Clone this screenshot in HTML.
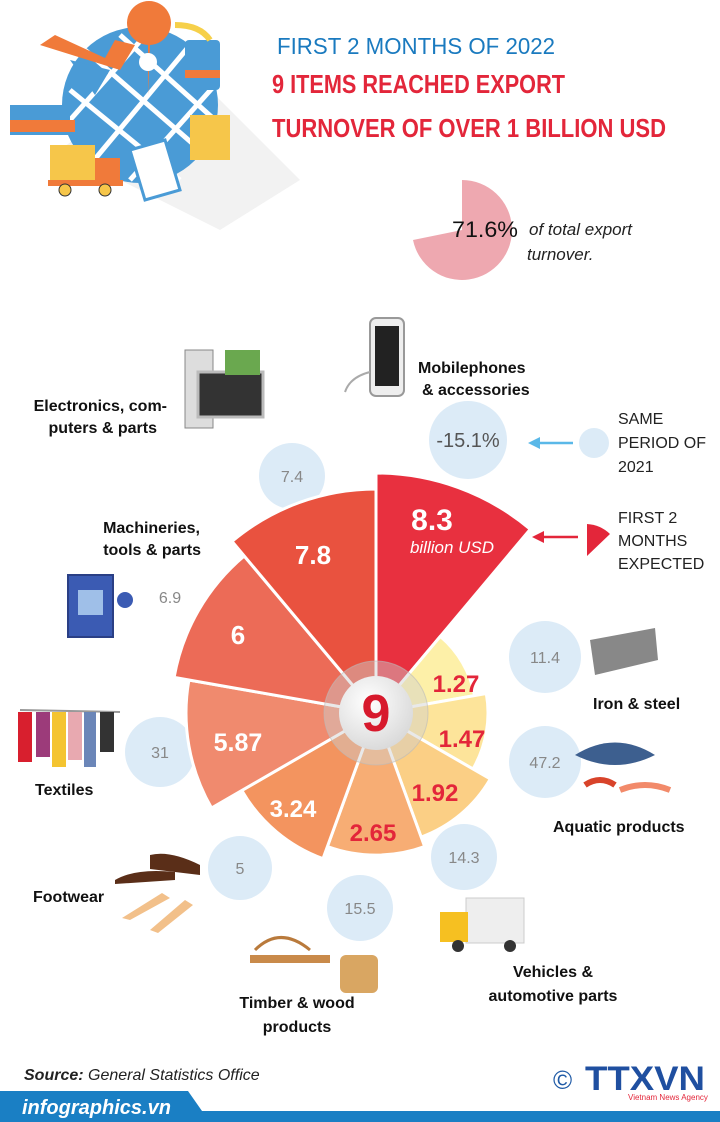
<!DOCTYPE html>
<html><head><meta charset="utf-8"><style>
html,body{margin:0;padding:0;background:#fff}
svg{display:block}
text{font-family:"Liberation Sans",sans-serif}
</style></head><body>
<svg width="720" height="1122" viewBox="0 0 720 1122" xmlns="http://www.w3.org/2000/svg">
<defs>
<radialGradient id="wg" cx="0.4" cy="0.35" r="0.7"><stop offset="0" stop-color="#fff"/><stop offset="1" stop-color="#d8d8d8"/></radialGradient>
</defs>
<path d="M60,150 L220,230 L300,180 L180,60 Z" fill="#f2f2f2"/>
<circle cx="140" cy="105" r="78" fill="#4a9bd6"/>
<g stroke="#fff" stroke-width="5" fill="none">
<path d="M85,50 L200,150"/><path d="M70,90 L180,180"/><path d="M120,35 L215,120"/>
<path d="M190,45 L90,165"/><path d="M215,85 L130,180"/><path d="M150,30 L70,120"/>
</g>
<path d="M40,45 L120,70 L135,45 L115,40 L105,58 L55,35 Z" fill="#f07a3a"/>
<path d="M70,60 L95,95 L110,70 Z" fill="#4a9bd6"/>
<path d="M148,45 a22,22 0 1 1 2,0 L148,95 Z" fill="#f07a3a"/>
<circle cx="148" cy="62" r="9" fill="#fff"/>
<rect x="185" y="40" width="35" height="50" rx="4" fill="#4a9bd6"/><rect x="185" y="70" width="35" height="8" fill="#f07a3a"/>
<rect x="10" y="105" width="60" height="30" fill="#4a9bd6"/><rect x="10" y="120" width="65" height="12" fill="#f07a3a"/>
<rect x="190" y="115" width="40" height="45" fill="#f6c64a"/>
<rect x="50" y="145" width="45" height="35" fill="#f6c64a"/><rect x="95" y="158" width="25" height="22" fill="#f07a3a"/>
<rect x="48" y="180" width="75" height="6" fill="#f07a3a"/>
<circle cx="65" cy="190" r="6" fill="#f6c64a" stroke="#333"/><circle cx="105" cy="190" r="6" fill="#f6c64a" stroke="#333"/>
<path d="M130,150 L165,140 L180,190 L145,200 Z" fill="#fff" stroke="#4a9bd6" stroke-width="3"/>
<path d="M175,25 q25,0 35,15" stroke="#f6d04a" stroke-width="6" fill="none"/>
<text x="277" y="54" font-size="23" fill="#1a7abf" textLength="278" lengthAdjust="spacingAndGlyphs">FIRST 2 MONTHS OF 2022</text>
<text x="272" y="93" font-size="26" font-weight="bold" fill="#e3263a" textLength="293" lengthAdjust="spacingAndGlyphs">9 ITEMS REACHED EXPORT</text>
<text x="272" y="137" font-size="26" font-weight="bold" fill="#e3263a" textLength="394" lengthAdjust="spacingAndGlyphs">TURNOVER OF OVER 1 BILLION USD</text>
<path d="M462,230 L462,180 A50,50 0 1 1 413,240 Z" fill="#eea8b0"/>
<text x="452" y="237" font-size="22" fill="#111" textLength="66" lengthAdjust="spacingAndGlyphs">71.6%</text>
<text x="529" y="235" font-size="17" font-style="italic" fill="#222">of total export</text>
<text x="527" y="260" font-size="17" font-style="italic" fill="#222">turnover.</text>
<g fill="#dcebf7">
<circle cx="468" cy="440" r="39"/><circle cx="292" cy="476" r="33"/><circle cx="160" cy="752" r="35"/>
<circle cx="240" cy="868" r="32"/><circle cx="360" cy="908" r="33"/><circle cx="464" cy="857" r="33"/>
<circle cx="545" cy="762" r="36"/><circle cx="545" cy="657" r="36"/><circle cx="594" cy="443" r="15"/>
</g>
<g font-size="16" fill="#888" text-anchor="middle">
<text x="468" y="447" font-size="20" fill="#555">-15.1%</text>
<text x="292" y="482">7.4</text><text x="170" y="603">6.9</text><text x="160" y="758">31</text>
<text x="240" y="874">5</text><text x="360" y="914">15.5</text><text x="464" y="863">14.3</text>
<text x="545" y="768">47.2</text><text x="545" y="663">11.4</text>
</g>
<path d="M573,443 L535,443" stroke="#5ab8e8" stroke-width="2.5"/><path d="M528,443 L540,437 L540,449 Z" fill="#5ab8e8"/>
<path d="M578,537 L540,537" stroke="#e3263a" stroke-width="2.5"/><path d="M532,537 L544,531 L544,543 Z" fill="#e3263a"/>
<path d="M587,556 L587,524 A36,36 0 0 1 610,534 Z" fill="#e3263a"/>
<g font-size="16" fill="#222">
<text x="618" y="424">SAME</text><text x="618" y="448">PERIOD OF</text><text x="618" y="472">2021</text>
<text x="618" y="523">FIRST 2</text><text x="618" y="546">MONTHS</text><text x="618" y="569">EXPECTED</text>
</g>
<g stroke="#fff" stroke-width="3" stroke-linejoin="round">
<path d="M376,713 L376,473 A240,240 0 0 1 530.3,529.2 Z" fill="#e8303f"/>
<path d="M376,713 L440.3,636.4 A100,100 0 0 1 474.5,695.6 Z" fill="#fdf0a8"/>
<path d="M376,713 L486.3,693.5 A112,112 0 0 1 473,769 Z" fill="#fde49a"/>
<path d="M376,713 L490.3,779 A132,132 0 0 1 421.1,837.1 Z" fill="#fbcf85"/>
<path d="M376,713 L424.6,846.5 A142,142 0 0 1 327.4,846.5 Z" fill="#f7ad74"/>
<path d="M376,713 L323,858.7 A155,155 0 0 1 241.8,790.5 Z" fill="#f3945f"/>
<path d="M376,713 L211.5,808 A190,190 0 0 1 188.9,680 Z" fill="#f08a6e"/>
<path d="M376,713 L174.1,677.4 A205,205 0 0 1 244.2,556 Z" fill="#ec6b57"/>
<path d="M376,713 L232,541.4 A224,224 0 0 1 376,489 Z" fill="#e9523f"/>
</g>
<circle cx="376" cy="713" r="52" fill="#cfcfcf" fill-opacity="0.45" stroke="#bbb" stroke-opacity="0.6"/>
<circle cx="376" cy="713" r="37" fill="url(#wg)"/>
<text x="376" y="731" font-size="52" font-weight="bold" fill="#d7192c" text-anchor="middle">9</text>
<g font-weight="bold" text-anchor="middle">
<text x="432" y="530" font-size="30" fill="#fff">8.3</text>
<text x="452" y="553" font-size="17" font-weight="normal" font-style="italic" fill="#fff">billion USD</text>
<text x="313" y="564" font-size="26" fill="#fff">7.8</text>
<text x="238" y="644" font-size="26" fill="#fff">6</text>
<text x="238" y="751" font-size="25" fill="#fff">5.87</text>
<text x="293" y="817" font-size="24" fill="#fff">3.24</text>
<text x="373" y="841" font-size="24" fill="#e3263a">2.65</text>
<text x="435" y="801" font-size="24" fill="#e3263a">1.92</text>
<text x="462" y="747" font-size="24" fill="#e3263a">1.47</text>
<text x="456" y="692" font-size="24" fill="#e3263a">1.27</text>
</g>
<g font-size="16" font-weight="bold" fill="#111">
<text x="418" y="373">Mobilephones</text><text x="422" y="395">&amp; accessories</text>
<text x="167" y="411" text-anchor="end">Electronics, com-</text><text x="157" y="433" text-anchor="end">puters &amp; parts</text>
<text x="200" y="533" text-anchor="end">Machineries,</text><text x="201" y="555" text-anchor="end">tools &amp; parts</text>
<text x="593" y="709">Iron &amp; steel</text>
<text x="35" y="795">Textiles</text>
<text x="553" y="832">Aquatic products</text>
<text x="33" y="902">Footwear</text>
<text x="553" y="977" text-anchor="middle">Vehicles &amp;</text><text x="553" y="1001" text-anchor="middle">automotive parts</text>
<text x="297" y="1008" text-anchor="middle">Timber &amp; wood</text><text x="297" y="1032" text-anchor="middle">products</text>
</g>
<rect x="370" y="318" width="34" height="78" rx="6" fill="#eee" stroke="#999" stroke-width="2"/><rect x="375" y="326" width="24" height="60" fill="#222"/>
<path d="M370,372 q-20,5 -25,20" stroke="#aaa" stroke-width="2" fill="none"/>
<rect x="185" y="350" width="28" height="78" fill="#ddd" stroke="#888"/><rect x="198" y="372" width="65" height="45" fill="#333" stroke="#bbb" stroke-width="3"/>
<rect x="225" y="350" width="35" height="25" fill="#6aa84f"/>
<rect x="68" y="575" width="45" height="62" fill="#3b5bb3" stroke="#2a3f85" stroke-width="2"/><rect x="78" y="590" width="25" height="25" fill="#9fbfe8"/><circle cx="125" cy="600" r="8" fill="#3b5bb3"/>
<path d="M20,710 L120,712" stroke="#999" stroke-width="2"/>
<g><rect x="18" y="712" width="14" height="50" fill="#d81f2e"/><rect x="36" y="712" width="14" height="45" fill="#9c3b7a"/><rect x="52" y="712" width="14" height="55" fill="#f4c430"/><rect x="68" y="712" width="14" height="48" fill="#e8a9b0"/><rect x="84" y="712" width="12" height="55" fill="#6b86b8"/><rect x="100" y="712" width="14" height="40" fill="#333"/></g>
<path d="M115,880 q20,-12 60,-8 l0,8 l-60,4 Z" fill="#5a2e18"/><path d="M150,855 q20,-5 50,10 l0,10 l-50,-6 Z" fill="#5a2e18"/>
<path d="M122,918 l40,-25 l8,5 l-40,22 Z" fill="#f2c08a"/><path d="M150,930 l35,-30 l8,5 l-35,28 Z" fill="#f2c08a"/>
<path d="M255,950 q25,-25 55,0" stroke="#b97a3c" stroke-width="3" fill="none"/><rect x="250" y="955" width="80" height="8" fill="#c98a4a"/>
<rect x="340" y="955" width="38" height="38" rx="6" fill="#d9a662"/>
<rect x="466" y="898" width="58" height="45" fill="#eee" stroke="#ccc"/><rect x="440" y="912" width="28" height="30" fill="#f6c021"/><circle cx="458" cy="946" r="6" fill="#333"/><circle cx="510" cy="946" r="6" fill="#333"/>
<path d="M590,640 L655,628 L658,660 L595,675 Z" fill="#888"/>
<path d="M575,755 q40,-25 80,0 q-40,20 -80,0 Z" fill="#3d5f8f"/>
<path d="M585,785 q15,-10 30,0" stroke="#d8432a" stroke-width="6" fill="none"/><path d="M620,790 q25,-10 50,0" stroke="#f28a6a" stroke-width="6" fill="none"/>
<text x="24" y="1080" font-size="16" font-style="italic" fill="#222"><tspan font-weight="bold">Source:</tspan> General Statistics Office</text>
<text x="553" y="1089" font-size="26" fill="#1f5aa6">©</text>
<text x="585" y="1090" font-size="34" font-weight="bold" fill="#1f4fa0" textLength="120" lengthAdjust="spacingAndGlyphs">TTXVN</text>
<text x="628" y="1100" font-size="8" fill="#e3263a">Vietnam News Agency</text>
<path d="M0,1091 L188,1091 L202,1111 L720,1111 L720,1122 L0,1122 Z" fill="#1a7fc4"/>
<text x="22" y="1114" font-size="20" font-weight="bold" font-style="italic" fill="#fff">infographics.vn</text>
</svg>
</body></html>
